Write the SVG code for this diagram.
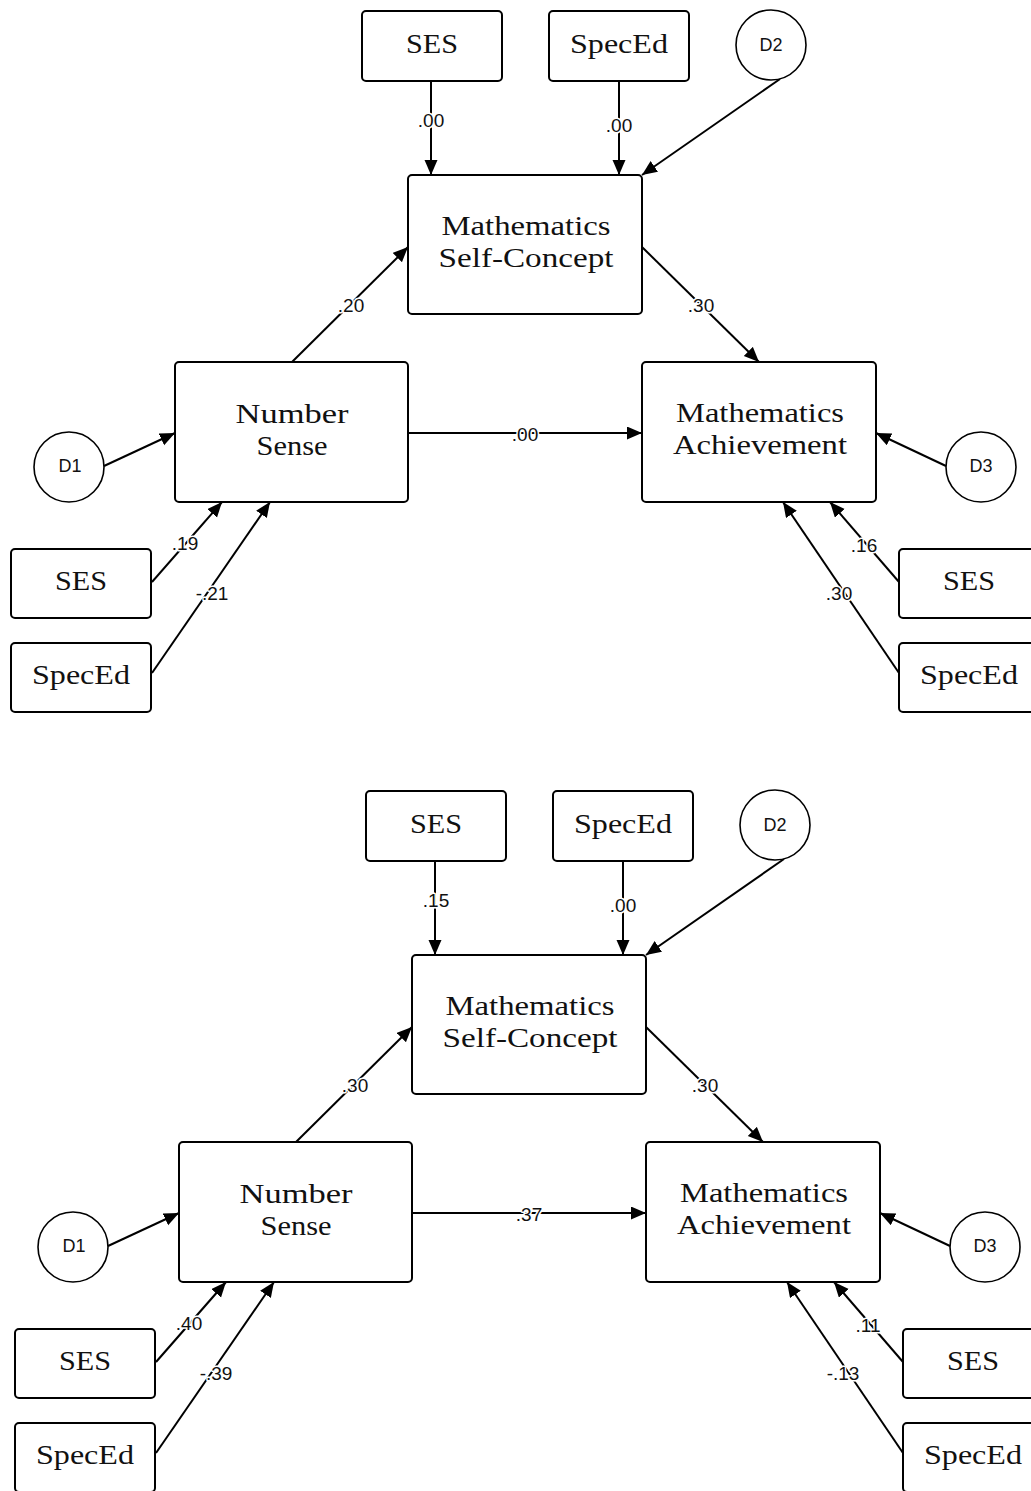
<svg xmlns="http://www.w3.org/2000/svg" width="1031" height="1491" viewBox="0 0 1031 1491">
<style>
.box{fill:#fff;stroke:#000;stroke-width:2}
.circ{fill:#fff;stroke:#000;stroke-width:1.6}
.lbl{font-family:"Liberation Serif",serif;font-size:28px;text-anchor:middle;fill:#111}
.d{font-family:"Liberation Sans",Arial,sans-serif;font-size:18px;text-anchor:middle;fill:#111}
.w{font-family:"Liberation Sans",Arial,sans-serif;font-size:19px;text-anchor:middle;fill:#111;stroke:#fff;stroke-width:3;paint-order:stroke;stroke-linejoin:round}
.edge{stroke:#000;stroke-width:2;fill:none;marker-end:url(#ah)}
</style>
<defs>
<marker id="ah" markerUnits="userSpaceOnUse" markerWidth="16" markerHeight="14" refX="15" refY="6.5" orient="auto">
<path d="M0,0 L15,6.5 L0,13 z" fill="#000"/>
</marker>
</defs>
<rect width="1031" height="1491" fill="#fff"/>

<g id="model1">
<g id="m1-connectors">
<line class="edge" x1="431" y1="81" x2="431" y2="175"/>
<line class="edge" x1="619" y1="81" x2="619" y2="175"/>
<line class="edge" x1="780" y1="79" x2="642" y2="175"/>
<line class="edge" x1="292" y1="362" x2="408" y2="247"/>
<line class="edge" x1="642" y1="247" x2="759" y2="362"/>
<line class="edge" x1="408" y1="433" x2="642" y2="433"/>
<line class="edge" x1="104" y1="466" x2="175" y2="433"/>
<line class="edge" x1="152" y1="582" x2="222" y2="502"/>
<line class="edge" x1="152" y1="673" x2="270" y2="502"/>
<line class="edge" x1="946" y1="466" x2="876" y2="433"/>
<line class="edge" x1="899" y1="582" x2="830" y2="502"/>
<line class="edge" x1="899" y1="673" x2="783" y2="502"/>
<text class="w" x="431" y="127">.00</text>
<text class="w" x="619" y="132">.00</text>
<text class="w" x="351" y="312">.20</text>
<text class="w" x="701" y="312">.30</text>
<text class="w" x="525" y="441">.00</text>
<text class="w" x="185" y="550">.19</text>
<text class="w" x="212" y="600">-.21</text>
<text class="w" x="864" y="552">.16</text>
<text class="w" x="839" y="600">.30</text>
</g>
<g id="m1-ses-top"><rect class="box" x="362" y="11" width="140" height="70" rx="4"/><text class="lbl" x="432" y="53" textLength="52" lengthAdjust="spacingAndGlyphs">SES</text></g>
<g id="m1-speced-top"><rect class="box" x="549" y="11" width="140" height="70" rx="4"/><text class="lbl" x="619" y="53" textLength="98" lengthAdjust="spacingAndGlyphs">SpecEd</text></g>
<g id="m1-d2"><circle class="circ" cx="771" cy="45" r="35"/><text class="d" x="771" y="51">D2</text></g>
<g id="m1-msc"><rect class="box" x="408" y="175" width="234" height="139" rx="4"/><text class="lbl" x="526" y="235" textLength="169" lengthAdjust="spacingAndGlyphs">Mathematics</text><text class="lbl" x="526" y="267" textLength="175" lengthAdjust="spacingAndGlyphs">Self-Concept</text></g>
<g id="m1-ns"><rect class="box" x="175" y="362" width="233" height="140" rx="4"/><text class="lbl" x="292" y="423" textLength="113" lengthAdjust="spacingAndGlyphs">Number</text><text class="lbl" x="292" y="455" textLength="71" lengthAdjust="spacingAndGlyphs">Sense</text></g>
<g id="m1-ma"><rect class="box" x="642" y="362" width="234" height="140" rx="4"/><text class="lbl" x="760" y="422" textLength="168" lengthAdjust="spacingAndGlyphs">Mathematics</text><text class="lbl" x="760" y="454" textLength="174" lengthAdjust="spacingAndGlyphs">Achievement</text></g>
<g id="m1-d1"><circle class="circ" cx="69" cy="467" r="35"/><text class="d" x="70" y="472">D1</text></g>
<g id="m1-d3"><circle class="circ" cx="981" cy="467" r="35"/><text class="d" x="981" y="472">D3</text></g>
<g id="m1-ses-left"><rect class="box" x="11" y="549" width="140" height="69" rx="4"/><text class="lbl" x="81" y="590" textLength="52" lengthAdjust="spacingAndGlyphs">SES</text></g>
<g id="m1-speced-left"><rect class="box" x="11" y="643" width="140" height="69" rx="4"/><text class="lbl" x="81" y="684" textLength="98" lengthAdjust="spacingAndGlyphs">SpecEd</text></g>
<g id="m1-ses-right"><rect class="box" x="899" y="549" width="140" height="69" rx="4"/><text class="lbl" x="969" y="590" textLength="52" lengthAdjust="spacingAndGlyphs">SES</text></g>
<g id="m1-speced-right"><rect class="box" x="899" y="643" width="140" height="69" rx="4"/><text class="lbl" x="969" y="684" textLength="98" lengthAdjust="spacingAndGlyphs">SpecEd</text></g>
</g>

<g id="model2" transform="translate(4,780)">
<g id="m2-connectors">
<line class="edge" x1="431" y1="81" x2="431" y2="175"/>
<line class="edge" x1="619" y1="81" x2="619" y2="175"/>
<line class="edge" x1="780" y1="79" x2="642" y2="175"/>
<line class="edge" x1="292" y1="362" x2="408" y2="247"/>
<line class="edge" x1="642" y1="247" x2="759" y2="362"/>
<line class="edge" x1="408" y1="433" x2="642" y2="433"/>
<line class="edge" x1="104" y1="466" x2="175" y2="433"/>
<line class="edge" x1="152" y1="582" x2="222" y2="502"/>
<line class="edge" x1="152" y1="673" x2="270" y2="502"/>
<line class="edge" x1="946" y1="466" x2="876" y2="433"/>
<line class="edge" x1="899" y1="582" x2="830" y2="502"/>
<line class="edge" x1="899" y1="673" x2="783" y2="502"/>
<text class="w" x="432" y="127">.15</text>
<text class="w" x="619" y="132">.00</text>
<text class="w" x="351" y="312">.30</text>
<text class="w" x="701" y="312">.30</text>
<text class="w" x="525" y="441">.37</text>
<text class="w" x="185" y="550">.40</text>
<text class="w" x="212" y="600">-.39</text>
<text class="w" x="864" y="552">.11</text>
<text class="w" x="839" y="600">-.13</text>
</g>
<g id="m2-ses-top"><rect class="box" x="362" y="11" width="140" height="70" rx="4"/><text class="lbl" x="432" y="53" textLength="52" lengthAdjust="spacingAndGlyphs">SES</text></g>
<g id="m2-speced-top"><rect class="box" x="549" y="11" width="140" height="70" rx="4"/><text class="lbl" x="619" y="53" textLength="98" lengthAdjust="spacingAndGlyphs">SpecEd</text></g>
<g id="m2-d2"><circle class="circ" cx="771" cy="45" r="35"/><text class="d" x="771" y="51">D2</text></g>
<g id="m2-msc"><rect class="box" x="408" y="175" width="234" height="139" rx="4"/><text class="lbl" x="526" y="235" textLength="169" lengthAdjust="spacingAndGlyphs">Mathematics</text><text class="lbl" x="526" y="267" textLength="175" lengthAdjust="spacingAndGlyphs">Self-Concept</text></g>
<g id="m2-ns"><rect class="box" x="175" y="362" width="233" height="140" rx="4"/><text class="lbl" x="292" y="423" textLength="113" lengthAdjust="spacingAndGlyphs">Number</text><text class="lbl" x="292" y="455" textLength="71" lengthAdjust="spacingAndGlyphs">Sense</text></g>
<g id="m2-ma"><rect class="box" x="642" y="362" width="234" height="140" rx="4"/><text class="lbl" x="760" y="422" textLength="168" lengthAdjust="spacingAndGlyphs">Mathematics</text><text class="lbl" x="760" y="454" textLength="174" lengthAdjust="spacingAndGlyphs">Achievement</text></g>
<g id="m2-d1"><circle class="circ" cx="69" cy="467" r="35"/><text class="d" x="70" y="472">D1</text></g>
<g id="m2-d3"><circle class="circ" cx="981" cy="467" r="35"/><text class="d" x="981" y="472">D3</text></g>
<g id="m2-ses-left"><rect class="box" x="11" y="549" width="140" height="69" rx="4"/><text class="lbl" x="81" y="590" textLength="52" lengthAdjust="spacingAndGlyphs">SES</text></g>
<g id="m2-speced-left"><rect class="box" x="11" y="643" width="140" height="69" rx="4"/><text class="lbl" x="81" y="684" textLength="98" lengthAdjust="spacingAndGlyphs">SpecEd</text></g>
<g id="m2-ses-right"><rect class="box" x="899" y="549" width="140" height="69" rx="4"/><text class="lbl" x="969" y="590" textLength="52" lengthAdjust="spacingAndGlyphs">SES</text></g>
<g id="m2-speced-right"><rect class="box" x="899" y="643" width="140" height="69" rx="4"/><text class="lbl" x="969" y="684" textLength="98" lengthAdjust="spacingAndGlyphs">SpecEd</text></g>
</g>
</svg>
